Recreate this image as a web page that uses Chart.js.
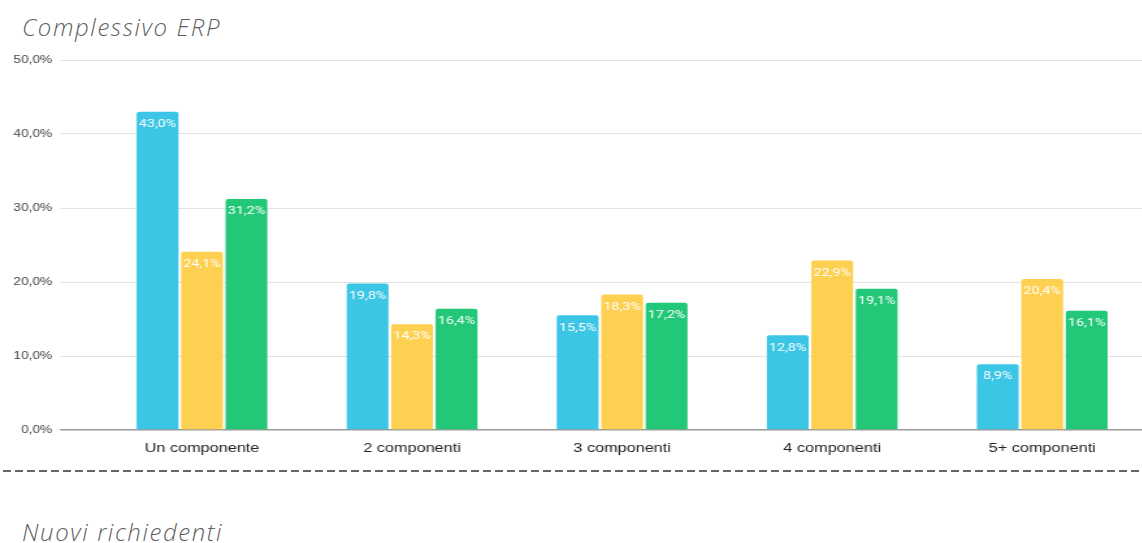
<!DOCTYPE html>
<html lang="it">
<head>
<meta charset="utf-8">
<title>Complessivo ERP</title>
<script src="https://cdn.jsdelivr.net/npm/chart.js@4.4.1/dist/chart.umd.min.js"></script>
<style>
  html, body { margin: 0; padding: 0; background: #fff; overflow: hidden; }
  body { width: 1142px; height: 543px; position: relative; }
  .titolo {
    position: absolute; left: 22px;
    font-family: 'Open Sans', sans-serif; font-style: italic; font-weight: 300;
    font-size: 24px; letter-spacing: 1.6px; color: #5f5f5f; margin: 0;
  }
  #t1 { top: 10px; }
  #t2 { top: 515px; }
  /* il grafico è disegnato più stretto e poi allargato in orizzontale */
  #wrap {
    position: absolute; left: 0; top: 45px; width: 886px; height: 420px;
    transform: scaleX(1.3); transform-origin: 0 0;
  }
  #sep {
    position: absolute; left: 3px; top: 470px; width: 1139px; height: 2px;
    background-image: linear-gradient(to right, #666 8px, transparent 8px);
    background-size: 12px 2px;
  }
</style>
</head>
<body>
<p class="titolo" id="t1">Complessivo ERP</p>
<div id="wrap"><canvas id="grafico" width="886" height="420"></canvas></div>
<div id="sep"></div>
<p class="titolo" id="t2">Nuovi richiedenti</p>

<script>
// Dati
const categorie = ['Un componente', '2 componenti', '3 componenti', '4 componenti', '5+ componenti'];
const serieBlu = [43.0, 19.8, 15.5, 12.8, 8.9];
const serieGialla = [24.1, 14.3, 18.3, 22.9, 20.4];
const serieVerde = [31.2, 16.4, 17.2, 19.1, 16.1];
const tickY = [0, 10, 20, 30, 40, 50];

const fmt = v => v.toFixed(1).replace('.', ',') + '%';

// etichette bianche dentro le barre
const etichette = {
  id: 'etichette',
  afterDatasetsDraw(chart) {
    const ctx = chart.ctx;
    ctx.save();
    ctx.font = '11px Roboto, sans-serif';
    ctx.fillStyle = '#ffffff';
    ctx.textAlign = 'center';
    ctx.textBaseline = 'top';
    chart.data.datasets.forEach((ds, i) => {
      chart.getDatasetMeta(i).data.forEach((bar, j) => {
        ctx.fillText(fmt(ds.data[j]), bar.x, bar.y + 7);
      });
    });
    ctx.restore();
  }
};

const barre = {
  categoryPercentage: 0.635,
  barPercentage: 0.94,
  borderRadius: { topLeft: 2, topRight: 2 },
  borderSkipped: 'bottom'
};

new Chart(document.getElementById('grafico'), {
  type: 'bar',
  data: {
    labels: categorie,
    datasets: [
      Object.assign({ label: 'Blu', data: serieBlu, backgroundColor: '#3cc6e6' }, barre),
      Object.assign({ label: 'Gialla', data: serieGialla, backgroundColor: '#fdd052' }, barre),
      Object.assign({ label: 'Verde', data: serieVerde, backgroundColor: '#22c878' }, barre)
    ]
  },
  options: {
    responsive: false,
    animation: false,
    layout: { padding: { top: 15, right: 3.5, bottom: 0, left: 0 } },
    plugins: {
      legend: { display: false },
      tooltip: { enabled: false }
    },
    scales: {
      x: {
        afterFit(scale) { scale.height = 35; },
        grid: { display: false },
        border: { display: false },
        ticks: {
          color: '#222',
          font: { family: 'Liberation Sans, Arial, sans-serif', size: 12.5 },
          padding: 3,
          maxRotation: 0
        }
      },
      y: {
        min: 0,
        max: 50,
        afterFit(scale) { scale.width = 74.6; },
        afterBuildTicks(scale) { scale.ticks = tickY.map(v => ({ value: v })); },
        border: { display: false },
        grid: {
          color: c => (c.tick && c.tick.value === 0 ? '#9a9a9a' : '#e2e2e2'),
          lineWidth: c => (c.tick && c.tick.value === 0 ? 1.5 : 1),
          tickLength: 28.5
        },
        ticks: {
          color: '#444',
          font: { family: 'Liberation Sans, Arial, sans-serif', size: 10.5 },
          padding: 6,
          callback: v => fmt(v)
        }
      }
    }
  },
  plugins: [etichette]
});
</script>
</body>
</html>
